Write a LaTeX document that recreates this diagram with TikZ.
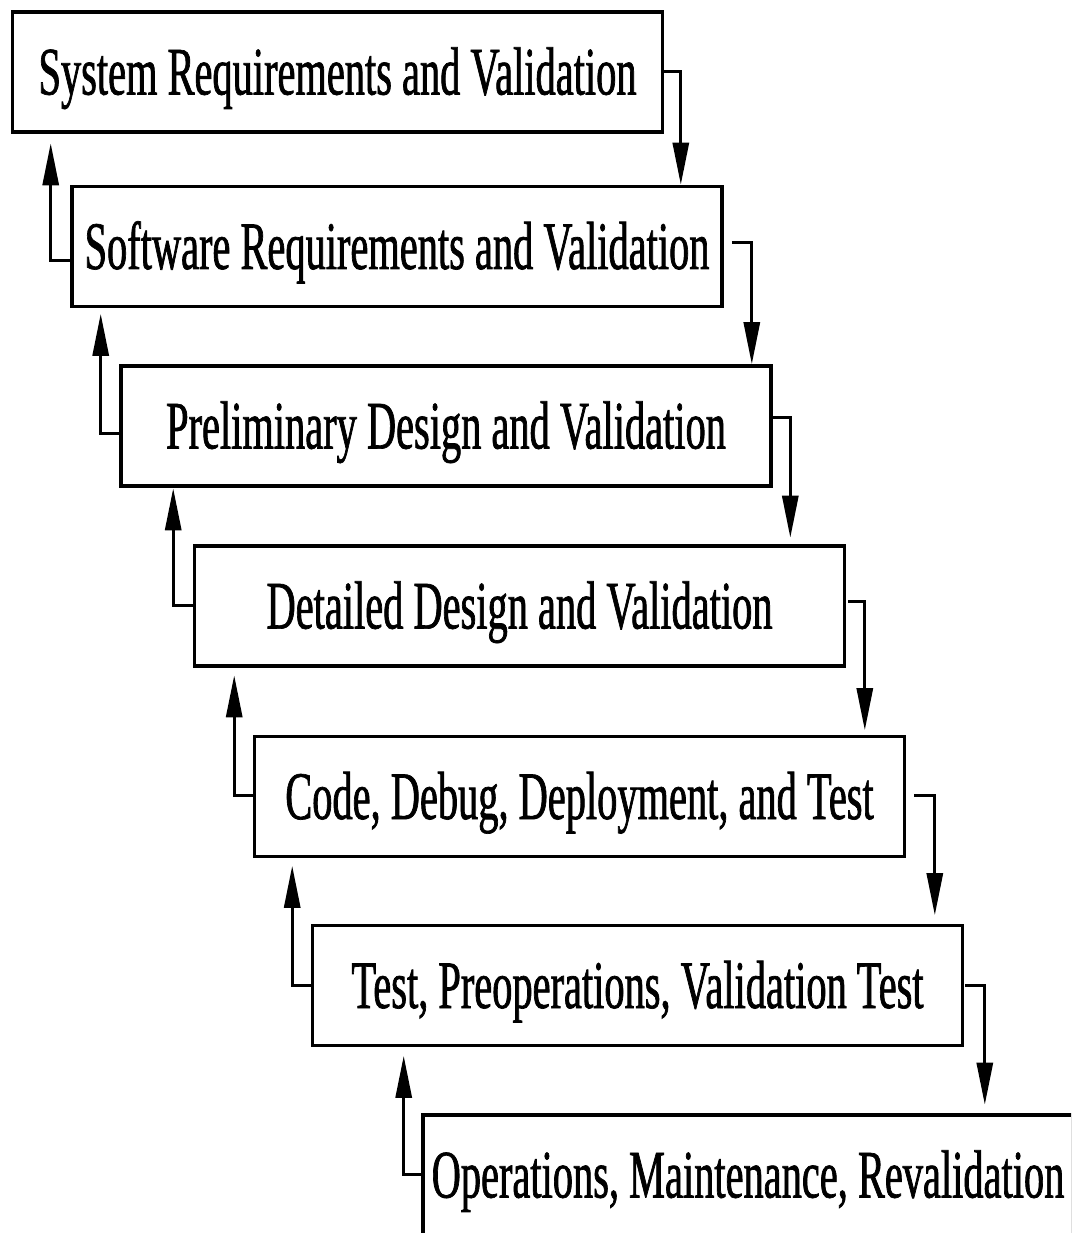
\documentclass[tikz,border=0pt]{standalone}
\usepackage{fontspec}
\newfontfamily\narrowserif[FakeStretch=0.594,FakeBold=1]{Liberation Serif}
\usetikzlibrary{arrows.meta,calc}
\begin{document}
\begin{tikzpicture}[x=1pt,y=-1pt,
  stage/.style={draw, line width=3.6pt, minimum width=650pt, minimum height=120pt,
    inner sep=0pt, font=\narrowserif\fontsize{68}{68}\selectfont,
    text height=45pt, text depth=0pt},
  conn/.style={line width=3pt, -{Triangle[length=42pt,width=16pt]}}]
\useasboundingbox (0,0) rectangle (1071,1233);
\clip (0,0) rectangle (1071,1233);
\fill[white] (0,0) rectangle (1071,1233);

\node[stage] (b1) at (337.5,72)   {System Requirements and Validation};
\node[stage] (b2) at (397,246.5)  {Software Requirements and Validation};
\node[stage] (b3) at (446,426)    {Preliminary Design and Validation};
\node[stage] (b4) at (519.5,606)  {Detailed Design and Validation};
\node[stage] (b5) at (579.5,796.5){Code, Debug, Deployment, and Test};
\node[stage] (b6) at (637.5,985.5){Test, Preoperations, Validation Test};
\node[stage] (b7) at (748,1175)   {Operations, Maintenance, Revalidation};

% forward connectors
\draw[conn] ($(b1.east)+(0,0)$) -- ++(16.5,0) coordinate (f1) -- ($(f1 |- b2.north)+(0,0)$);
\draw[conn] ($(b2.east)+(8,-3.5)$) -- ++(20,0) coordinate (f2) -- ($(f2 |- b3.north)+(0,0)$);
\draw[conn] ($(b3.east)+(0,-9)$) -- ++(17.5,0) coordinate (f3) -- ($(f3 |- b4.north)+(0,-6.5)$);
\draw[conn] ($(b4.east)+(2,-5)$) -- ++(16.5,0) coordinate (f4) -- ($(f4 |- b5.north)+(0,-4.5)$);
\draw[conn] ($(b5.east)+(8,-1.5)$) -- ++(20.5,0) coordinate (f5) -- ($(f5 |- b6.north)+(0,-8.5)$);
\draw[conn] ($(b6.east)+(1,-0.5)$) -- ++(19.5,0) coordinate (f6) -- ($(f6 |- b7.north)+(0,-8.5)$);

% feedback connectors
\draw[conn] ($(b2.west)+(0,13.5)$) -- ++(-19.5,0) coordinate (k2) -- ($(k2 |- b1.south)+(0,9.5)$);
\draw[conn] ($(b3.west)+(0,7)$) -- ++(-18.5,0) coordinate (k3) -- ($(k3 |- b2.south)+(0,5.5)$);
\draw[conn] ($(b4.west)+(0,-1)$) -- ++(-19.5,0) coordinate (k4) -- ($(k4 |- b3.south)+(0,0.5)$);
\draw[conn] ($(b5.west)+(0,-1.5)$) -- ++(-18.5,0) coordinate (k5) -- ($(k5 |- b4.south)+(0,7.5)$);
\draw[conn] ($(b6.west)+(0,-0.5)$) -- ++(-18.5,0) coordinate (k6) -- ($(k6 |- b5.south)+(0,7.5)$);
\draw[conn] ($(b7.west)+(0,-1)$) -- ++(-17.5,0) coordinate (k7) -- ($(k7 |- b6.south)+(0,8.5)$);
\end{tikzpicture}
\end{document}
